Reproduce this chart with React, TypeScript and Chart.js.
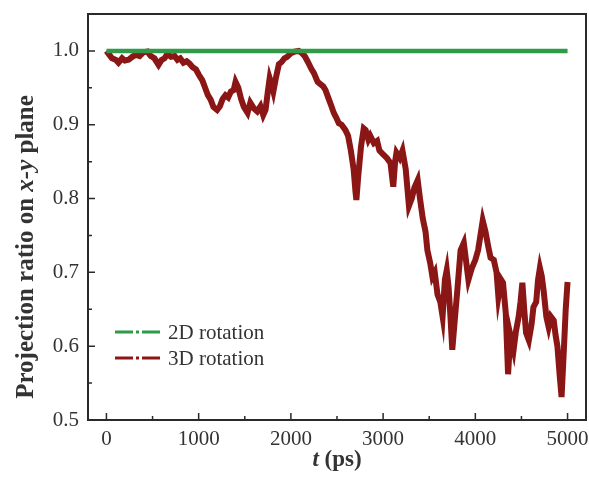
import React, { useEffect, useRef } from "react";
import { Chart, registerables } from "chart.js";

Chart.register(...registerables);

const xTicksMajor = [0, 1000, 2000, 3000, 4000, 5000];
const xTicksMinor = [500, 1500, 2500, 3500, 4500];
const yTicksMajor = [0.5, 0.6, 0.7, 0.8, 0.9, 1.0];
const yTicksMinor = [0.55, 0.65, 0.75, 0.85, 0.95];

const series2DLabel = "2D rotation";
const series3DLabel = "3D rotation";

const t2D = [0, 5000];
const v2D = [1.0, 1.0];

const t3D = [
  0, 30, 60, 100, 130, 170, 200, 240, 280, 320, 360, 400, 445, 480, 520, 565, 600, 630, 660, 700,
  740, 770, 800, 835, 870, 900, 935, 970, 1000, 1040, 1070, 1100, 1130, 1160, 1200, 1230, 1260, 1290, 1320, 1350,
  1380, 1400, 1430, 1460, 1490, 1530, 1560, 1600, 1635, 1670, 1700, 1725, 1750, 1770, 1790, 1810, 1840, 1870, 1900, 1930,
  1960, 2000, 2040, 2085, 2120, 2150, 2180, 2220, 2250, 2290, 2320, 2350, 2375, 2410, 2440, 2465, 2490, 2520, 2550, 2590,
  2620, 2650, 2680, 2700, 2710, 2730, 2760, 2790, 2810, 2840, 2860, 2900, 2935, 2960, 3000, 3040, 3080, 3110, 3130, 3145,
  3180, 3210, 3245, 3280, 3310, 3340, 3375, 3400, 3430, 3460, 3480, 3510, 3535, 3560, 3590, 3620, 3645, 3670, 3690, 3710,
  3730, 3750, 3780, 3805, 3840, 3875, 3900, 3925, 3960, 4000, 4030, 4055, 4080, 4110, 4140, 4165, 4200, 4230, 4250, 4280,
  4300, 4330, 4355, 4380, 4415, 4440, 4470, 4490, 4510, 4530, 4550, 4580, 4610, 4630, 4660, 4680, 4700, 4720, 4740, 4770,
  4795, 4820, 4850, 4870, 4890, 4915, 4935, 4960, 4980, 5000,
];
const v3D = [
  1.0, 0.995, 0.99, 0.988, 0.984, 0.99, 0.987, 0.988, 0.992, 0.995, 0.993, 0.998, 0.999, 0.993, 0.99, 0.981, 0.988, 0.99, 0.996, 0.992,
  0.993, 0.988, 0.99, 0.984, 0.986, 0.983, 0.978, 0.975, 0.968, 0.96, 0.95, 0.94, 0.934, 0.924, 0.92, 0.925, 0.935, 0.94, 0.937, 0.945,
  0.947, 0.958, 0.95, 0.935, 0.924, 0.916, 0.93, 0.922, 0.918, 0.925, 0.913, 0.92, 0.945, 0.963, 0.955, 0.945, 0.965, 0.982, 0.985, 0.99,
  0.992, 0.997, 0.999, 1.0, 0.997, 0.993, 0.986, 0.976, 0.97, 0.958, 0.955, 0.952, 0.947, 0.935, 0.925, 0.916, 0.91, 0.902, 0.9, 0.893,
  0.885, 0.865, 0.84, 0.81, 0.798, 0.83, 0.87, 0.895, 0.893, 0.88, 0.885, 0.875, 0.878, 0.865, 0.86, 0.855, 0.848, 0.816, 0.85, 0.862,
  0.855, 0.865, 0.84, 0.79, 0.8, 0.815, 0.825, 0.8, 0.773, 0.755, 0.73, 0.713, 0.694, 0.7, 0.67, 0.66, 0.64, 0.69, 0.703, 0.68,
  0.64, 0.595, 0.64, 0.676, 0.73, 0.74, 0.715, 0.69, 0.705, 0.717, 0.73, 0.75, 0.77, 0.755, 0.735, 0.72, 0.717, 0.7, 0.667, 0.69,
  0.686, 0.645, 0.562, 0.615, 0.595, 0.62, 0.64, 0.66, 0.686, 0.65, 0.618, 0.608, 0.63, 0.653, 0.66, 0.69, 0.706, 0.695, 0.676, 0.64,
  0.626, 0.64, 0.635, 0.615, 0.6, 0.56, 0.531, 0.595, 0.65, 0.687,
];

const GREEN = "#2f9a47";
const RED = "#8b1616";
const AXIS = "#2a2a2a";
const TEXT = "#333333";
const SERIF = "'Liberation Serif', 'DejaVu Serif', serif";

const decorPlugin = {
  id: "decor",
  afterDraw(chart: any) {
    const { ctx, chartArea } = chart;
    const xs = chart.scales.x;
    const ys = chart.scales.y;
    const { left, right, top, bottom } = chartArea;
    ctx.save();
    ctx.strokeStyle = AXIS;
    ctx.lineWidth = 2;
    ctx.strokeRect(left, top, right - left, bottom - top);
    ctx.lineWidth = 1.5;
    ctx.beginPath();
    xTicksMajor.forEach((v) => {
      const px = xs.getPixelForValue(v);
      ctx.moveTo(px, bottom);
      ctx.lineTo(px, bottom - 7);
    });
    xTicksMinor.forEach((v) => {
      const px = xs.getPixelForValue(v);
      ctx.moveTo(px, bottom);
      ctx.lineTo(px, bottom - 4);
    });
    yTicksMajor.forEach((v) => {
      const py = ys.getPixelForValue(v);
      ctx.moveTo(left, py);
      ctx.lineTo(left + 7, py);
    });
    yTicksMinor.forEach((v) => {
      const py = ys.getPixelForValue(v);
      ctx.moveTo(left, py);
      ctx.lineTo(left + 4, py);
    });
    ctx.stroke();

    // legend
    const items = chart.data.datasets.map((d: any) => ({ label: d.label, color: d.borderColor }));
    const lx0 = 115;
    const ly = [332, 358];
    items.forEach((it: any, i: number) => {
      const y = ly[i];
      ctx.strokeStyle = it.color;
      ctx.lineWidth = 3;
      ctx.beginPath();
      ctx.moveTo(lx0, y);
      ctx.lineTo(lx0 + 18, y);
      ctx.moveTo(lx0 + 21, y);
      ctx.lineTo(lx0 + 24, y);
      ctx.moveTo(lx0 + 27, y);
      ctx.lineTo(lx0 + 45, y);
      ctx.stroke();
      ctx.fillStyle = TEXT;
      ctx.font = `21px ${SERIF}`;
      ctx.textAlign = "left";
      ctx.textBaseline = "middle";
      ctx.fillText(it.label, lx0 + 53, y + 1);
    });

    // x title
    ctx.fillStyle = TEXT;
    ctx.textBaseline = "alphabetic";
    ctx.textAlign = "left";
    const fI = `italic bold 23px ${SERIF}`;
    const fB = `bold 23px ${SERIF}`;
    ctx.font = fI;
    const wT = ctx.measureText("t").width;
    ctx.font = fB;
    const wP = ctx.measureText(" (ps)").width;
    const cx = (left + right) / 2;
    const sx = cx - (wT + wP) / 2;
    ctx.font = fI;
    ctx.fillText("t", sx, 466);
    ctx.font = fB;
    ctx.fillText(" (ps)", sx + wT, 466);

    // y title
    const yI = `italic bold 25px ${SERIF}`;
    const yB = `bold 25px ${SERIF}`;
    const parts = [
      { s: "Projection ratio on ", f: yB },
      { s: "x-y", f: yI },
      { s: " plane", f: yB },
    ];
    let total = 0;
    parts.forEach((p) => {
      ctx.font = p.f;
      total += ctx.measureText(p.s).width;
    });
    ctx.translate(33, 247);
    ctx.rotate(-Math.PI / 2);
    let ox = -total / 2;
    parts.forEach((p) => {
      ctx.font = p.f;
      ctx.fillText(p.s, ox, 0);
      ox += ctx.measureText(p.s).width;
    });
    ctx.restore();
  },
};

export default function App() {
  const ref = useRef<HTMLCanvasElement | null>(null);
  useEffect(() => {
    document.body.style.margin = "0";
    const canvas = ref.current;
    if (!canvas) return;
    const chart = new Chart(canvas, {
      type: "line",
      data: {
        datasets: [
          {
            label: series2DLabel,
            data: t2D.map((t, i) => ({ x: t, y: v2D[i] })),
            borderColor: GREEN,
            borderWidth: 4.5,
            pointRadius: 0,
            tension: 0,
          },
          {
            label: series3DLabel,
            data: t3D.map((t, i) => ({ x: t, y: v3D[i] })),
            borderColor: RED,
            borderWidth: 6,
            pointRadius: 0,
            tension: 0,
          },
        ],
      },
      options: {
        animation: false,
        responsive: false,
        maintainAspectRatio: false,
        layout: { padding: { left: 0, top: 14, right: 3, bottom: 0 } },
        plugins: { legend: { display: false }, tooltip: { enabled: false } },
        scales: {
          x: {
            type: "linear",
            min: -200,
            max: 5200,
            grid: { display: false, drawTicks: false },
            border: { display: false },
            afterBuildTicks: (s: any) => {
              s.ticks = xTicksMajor.map((v) => ({ value: v }));
            },
            ticks: {
              padding: 7,
              color: TEXT,
              font: { family: SERIF, size: 21 },
              maxRotation: 0,
              autoSkip: false,
              callback: (v: any) => String(v),
            },
            afterFit: (s: any) => {
              s.height = 58;
              s.paddingLeft = 0;
              s.paddingRight = 0;
            },
          },
          y: {
            type: "linear",
            min: 0.5,
            max: 1.05,
            grid: { display: false, drawTicks: false },
            border: { display: false },
            afterBuildTicks: (s: any) => {
              s.ticks = yTicksMajor.map((v) => ({ value: v }));
            },
            ticks: {
              padding: 9,
              color: TEXT,
              font: { family: SERIF, size: 21 },
              callback: (v: any) => Number(v).toFixed(1),
              autoSkip: false,
            },
            afterFit: (s: any) => {
              s.width = 88;
              s.paddingTop = 0;
              s.paddingBottom = 0;
            },
          },
        },
      },
      plugins: [decorPlugin],
    });
    return () => chart.destroy();
  }, []);
  return <canvas ref={ref} width={589} height={478} style={{ display: "block" }} />;
}
